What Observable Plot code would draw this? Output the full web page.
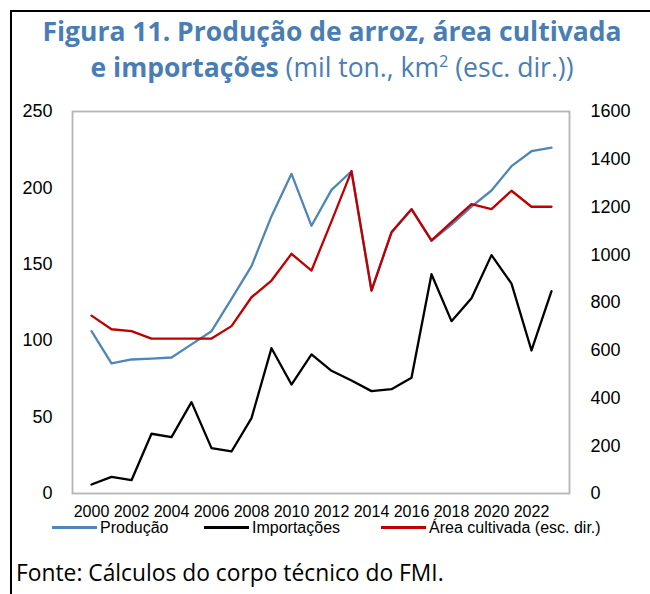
<!DOCTYPE html>
<html>
<head>
<meta charset="utf-8">
<script src="https://cdn.jsdelivr.net/npm/d3@7"></script>
<script src="https://cdn.jsdelivr.net/npm/@observablehq/plot@0.6"></script>
<style>
  html, body { margin: 0; padding: 0; background: #fff; }
  #wrap { position: relative; width: 650px; height: 594px; overflow: hidden; background: #fff; }
  #wrap > * { position: absolute; }
  #border { left: 9.5px; top: 10px; width: 700px; height: 700px; border-top: 2.5px solid #000; border-left: 2.5px solid #000; box-sizing: border-box; }
  .title { left: 10px; width: 644px; text-align: center; color: #4a7eb3; font-family: "Open Sans", sans-serif; font-size: 26.5px; line-height: 1; white-space: nowrap; }
  .title b { font-weight: 700; }
  .title span.reg { font-weight: 400; }
  .title sup { font-size: 0.62em; vertical-align: 0; position: relative; top: -0.6em; }
  .leg { top: 519.5px; display: flex; align-items: center; font-family: "Liberation Sans", Arial, sans-serif; font-size: 16px; line-height: 1; color: #000; white-space: nowrap; }
  .leg i { display: inline-block; width: 45px; height: 2.2px; margin-right: 3px; }
  #foot { left: 16px; top: 561.5px; font-family: "Open Sans", sans-serif; font-size: 22.8px; line-height: 1; color: #000; white-space: nowrap; }
</style>
</head>
<body>
<div id="wrap">
  <div id="chart"></div>
  <div id="border"></div>
  <div class="title" style="top:18.2px"><b>Figura 11. Produção de arroz, área cultivada</b></div>
  <div class="title" style="top:53.8px"><b>e importações</b><span class="reg"> (mil ton., km<sup>2</sup> (esc. dir.))</span></div>
  <div id="legend"></div>
  <div id="foot">Fonte: Cálculos do corpo técnico do FMI.</div>
</div>
<script>
const years = [2000, 2001, 2002, 2003, 2004, 2005, 2006, 2007, 2008, 2009, 2010, 2011,
               2012, 2013, 2014, 2015, 2016, 2017, 2018, 2019, 2020, 2021, 2022, 2023];
const producao = [106.2, 85.1, 87.7, 88.3, 89.0, 97.6, 106.2, 127.4, 148.8, 181.5, 209.2, 175.2,
                  198.7, 210.9, 132.8, 170.9, 186.1, 165.4, 176.0, 187.8, 198.3, 214.2, 224.0, 226.4];
const importacoes = [5.9, 10.9, 8.7, 39.1, 36.9, 59.8, 29.7, 27.5, 49.3, 95.1, 71.3, 91.0,
                     80.3, 74.0, 67.0, 68.3, 75.7, 143.5, 112.8, 127.8, 156.0, 137.4, 93.6, 132.4];
const areaCultivada = [745, 688, 680, 649, 649, 649, 649, 701, 822, 892, 1004, 934,
                       1140, 1350, 850, 1094, 1191, 1060, 1137, 1212, 1191, 1268, 1201, 1201];
const xTicks = [2000, 2002, 2004, 2006, 2008, 2010, 2012, 2014, 2016, 2018, 2020, 2022];
const leftTicks = [0, 50, 100, 150, 200, 250];
const rightTicks = [0, 200, 400, 600, 800, 1000, 1200, 1400, 1600];
const seriesNames = ["Produção", "Importações", "Área cultivada (esc. dir.)"];
const seriesColors = ["#4f86b9", "#000000", "#c00000"];

const leftMax = 250, rightMax = 1600;
const ratio = rightMax / leftMax;

const rows = years.map((y, i) => ({
  year: y, producao: producao[i], importacoes: importacoes[i], area: areaCultivada[i]
}));

const chart = Plot.plot({
  width: 650,
  height: 594,
  marginTop: 111,
  marginBottom: 101,
  marginLeft: 72,
  marginRight: 81,
  style: { fontFamily: "'Liberation Sans', Arial, sans-serif", background: "transparent" },
  x: { type: "point", domain: years, padding: 0.5 },
  y: { domain: [0, leftMax] },
  marks: [
    Plot.frame({ stroke: "#b5b5b5", strokeWidth: 1.8 }),
    Plot.axisX({ ticks: xTicks, tickSize: 0, tickPadding: 12, fontSize: 16, label: null, tickFormat: d => String(d) }),
    Plot.axisY({ ticks: leftTicks, tickSize: 0, tickPadding: 20, fontSize: 18, label: null, anchor: "left" }),
    Plot.axisY({ ticks: rightTicks.map(t => t / ratio), tickSize: 0, tickPadding: 21, fontSize: 18, label: null, anchor: "right",
                 tickFormat: d => String(Math.round(d * ratio)) }),
    Plot.line(rows, { x: "year", y: "producao", stroke: seriesColors[0], strokeWidth: 2.3 }),
    Plot.line(rows, { x: "year", y: "importacoes", stroke: seriesColors[1], strokeWidth: 2.3 }),
    Plot.line(rows, { x: "year", y: d => d.area / ratio, stroke: seriesColors[2], strokeWidth: 2.3 })
  ]
});
document.getElementById("chart").appendChild(chart);

const legendLefts = [52, 204, 381];
const legend = document.getElementById("legend");
seriesNames.forEach((name, i) => {
  const item = document.createElement("div");
  item.className = "leg";
  item.style.position = "absolute";
  item.style.left = legendLefts[i] + "px";
  const sw = document.createElement("i");
  sw.style.background = seriesColors[i];
  item.appendChild(sw);
  item.appendChild(document.createTextNode(name));
  legend.appendChild(item);
});
</script>
</body>
</html>
